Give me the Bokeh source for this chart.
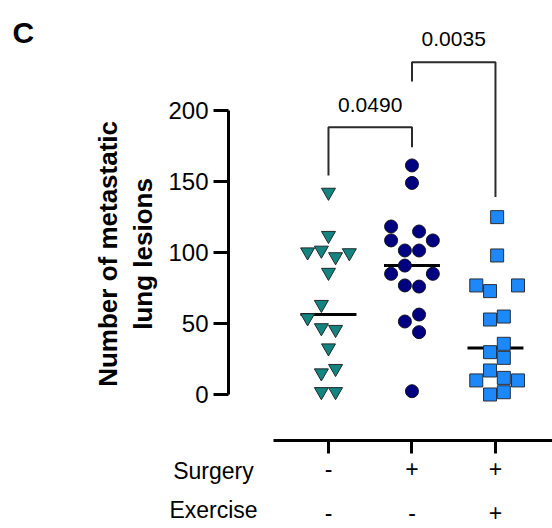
import numpy as np
from bokeh.plotting import figure
from bokeh.models import Range1d, LinearAxis, FixedTicker
from bokeh.core.properties import value
from bokeh.embed import file_html
from bokeh.resources import INLINE

# ---------------- data ----------------
group_positions = [1, 2, 3]
surgery_labels = ["-", "+", "+"]
exercise_labels = ["-", "-", "+"]

control_lesions = [142.4, 112, 100.4, 101.6, 97, 99.8, 86, 63.4, 54, 47, 45.8,
                   32.8, 15.2, 18.3, 2, 2]
control_jitter = [0, 0, -0.25, -0.085, 0.085, 0.25, 0, -0.085, -0.25, -0.085,
                  0.085, 0, -0.085, 0.085, -0.085, 0.085]

surgery_lesions = [161.3, 149, 118.3, 114.8, 108.5, 108.5, 101.4, 101.4, 90.8,
                   85, 85, 76.8, 76, 56.3, 51.4, 43.9, 2.3]
surgery_jitter = [0, 0, -0.25, 0.085, -0.25, 0.25, -0.085, 0.085, -0.085,
                  -0.25, 0.25, -0.085, 0.085, 0.085, -0.085, 0.085, 0]

exercise_lesions = [124.9, 97.9, 76.8, 72.8, 76.8, 52.8, 54.9, 35.7, 29.8, 25.8,
                    16.9, 9.9, 11.7, 9.9, 0, 1.6]
exercise_jitter = [0.02, 0.02, -0.23, -0.065, 0.27, -0.065, 0.1, 0.1, -0.065,
                   0.1, -0.065, -0.23, 0.1, 0.27, -0.065, 0.1]

group_medians = [56.3, 90.8, 32.8]

comparisons = [(1, 2), (2, 3)]
p_values = ["0.0490", "0.0035"]

y_ticks = [0, 50, 100, 150, 200]

# ---------------- figure ----------------
FONT = "Liberation Sans"
W, H = 552, 528

p = figure(width=W, height=H, output_backend="svg", toolbar_location=None,
           x_range=Range1d(-2.928, 3.683), y_range=Range1d(-94.37, 277.46),
           x_axis_type=None, y_axis_type=None,
           min_border_left=0, min_border_right=0, min_border_top=0,
           min_border_bottom=0)
p.outline_line_color = None
p.background_fill_color = "white"
p.border_fill_color = "white"

# ---------------- axes ----------------
yaxis = LinearAxis(fixed_location=-0.1976, bounds=(0, 200),
                   ticker=FixedTicker(ticks=y_ticks))
yaxis.axis_line_width = 3
yaxis.axis_line_color = "black"
yaxis.major_tick_line_width = 3
yaxis.major_tick_line_color = "black"
yaxis.major_tick_out = 15
yaxis.major_tick_in = 0
yaxis.minor_tick_line_color = None
yaxis.major_label_text_font = FONT
yaxis.major_label_text_font_size = "24px"
yaxis.major_label_text_color = "black"
yaxis.major_label_standoff = 5
p.add_layout(yaxis, "left")

xaxis = LinearAxis(fixed_location=-32.4, bounds=(0.341, 3.683),
                   ticker=FixedTicker(ticks=group_positions),
                   major_label_overrides={g: s for g, s in zip(group_positions, surgery_labels)})
xaxis.axis_line_width = 3
xaxis.axis_line_color = "black"
xaxis.major_tick_line_width = 3
xaxis.major_tick_line_color = "black"
xaxis.major_tick_out = 13
xaxis.major_tick_in = 0
xaxis.minor_tick_line_color = None
xaxis.major_label_text_font = FONT
xaxis.major_label_text_font_size = "23px"
xaxis.major_label_text_color = "black"
xaxis.major_label_standoff = 6
p.add_layout(xaxis, "below")

xaxis2 = LinearAxis(fixed_location=-77.3, bounds=(0.341, 3.683),
                    ticker=FixedTicker(ticks=group_positions),
                    major_label_overrides={g: s for g, s in zip(group_positions, exercise_labels)})
xaxis2.axis_line_color = None
xaxis2.major_tick_line_color = None
xaxis2.minor_tick_line_color = None
xaxis2.major_tick_out = 0
xaxis2.major_tick_in = 0
xaxis2.major_label_text_font = FONT
xaxis2.major_label_text_font_size = "23px"
xaxis2.major_label_text_color = "black"
xaxis2.major_label_standoff = 0
p.add_layout(xaxis2, "below")

# ---------------- medians ----------------
gp = np.array(group_positions, dtype=float)
p.segment(x0=gp - 0.335, x1=gp + 0.335, y0=group_medians, y1=group_medians,
          line_color="black", line_width=3)

# ---------------- points ----------------
p.scatter(x=1 + np.array(control_jitter), y=control_lesions, marker="inverted_triangle",
          size=14, fill_color="#138480", line_color="#1f2a2a", line_width=1)
p.scatter(x=2 + np.array(surgery_jitter), y=surgery_lesions, marker="circle",
          size=13, fill_color="#000080", line_color="#111122", line_width=1)
p.scatter(x=3 + np.array(exercise_jitter), y=exercise_lesions, marker="square",
          size=13, fill_color="#1C88FA", line_color="#2a2f3a", line_width=1)

# ---------------- significance brackets ----------------
bracket_geom = [(154.2, 188.2, 174.2, 204.2), (220.4, 234.0, 139.0, 250.0)]
for (a, b), pv, (yl, yt, yr, ytxt) in zip(comparisons, p_values, bracket_geom):
    p.line(x=[a, a, b, b], y=[yl, yt, yt, yr], line_color="#2b2b2b", line_width=2)
    p.text(x=[(a + b) / 2], y=[ytxt], text=[pv], text_font=value(FONT),
           text_font_size="21px", text_align="center", text_baseline="middle",
           text_color="black")

# ---------------- texts ----------------
p.text(x=[-1.635, -1.216], y=[99, 99],
       text=["Number of metastatic", "lung lesions"], angle=np.pi / 2,
       text_font=value(FONT), text_font_size="26px", text_font_style="bold",
       text_align="center", text_baseline="middle", text_color="black")

p.text(x=[-0.377, -0.377], y=[-54.0, -81.5], text=["Surgery", "Exercise"],
       text_font=value(FONT), text_font_size="23px", text_align="center",
       text_baseline="alphabetic", text_color="black")

p.text(x=[-2.656], y=[255.1], text=["C"], text_font=value(FONT),
       text_font_size="30px", text_font_style="bold", text_align="center",
       text_baseline="middle", text_color="black")

open("out.html", "w").write(file_html(p, INLINE))
